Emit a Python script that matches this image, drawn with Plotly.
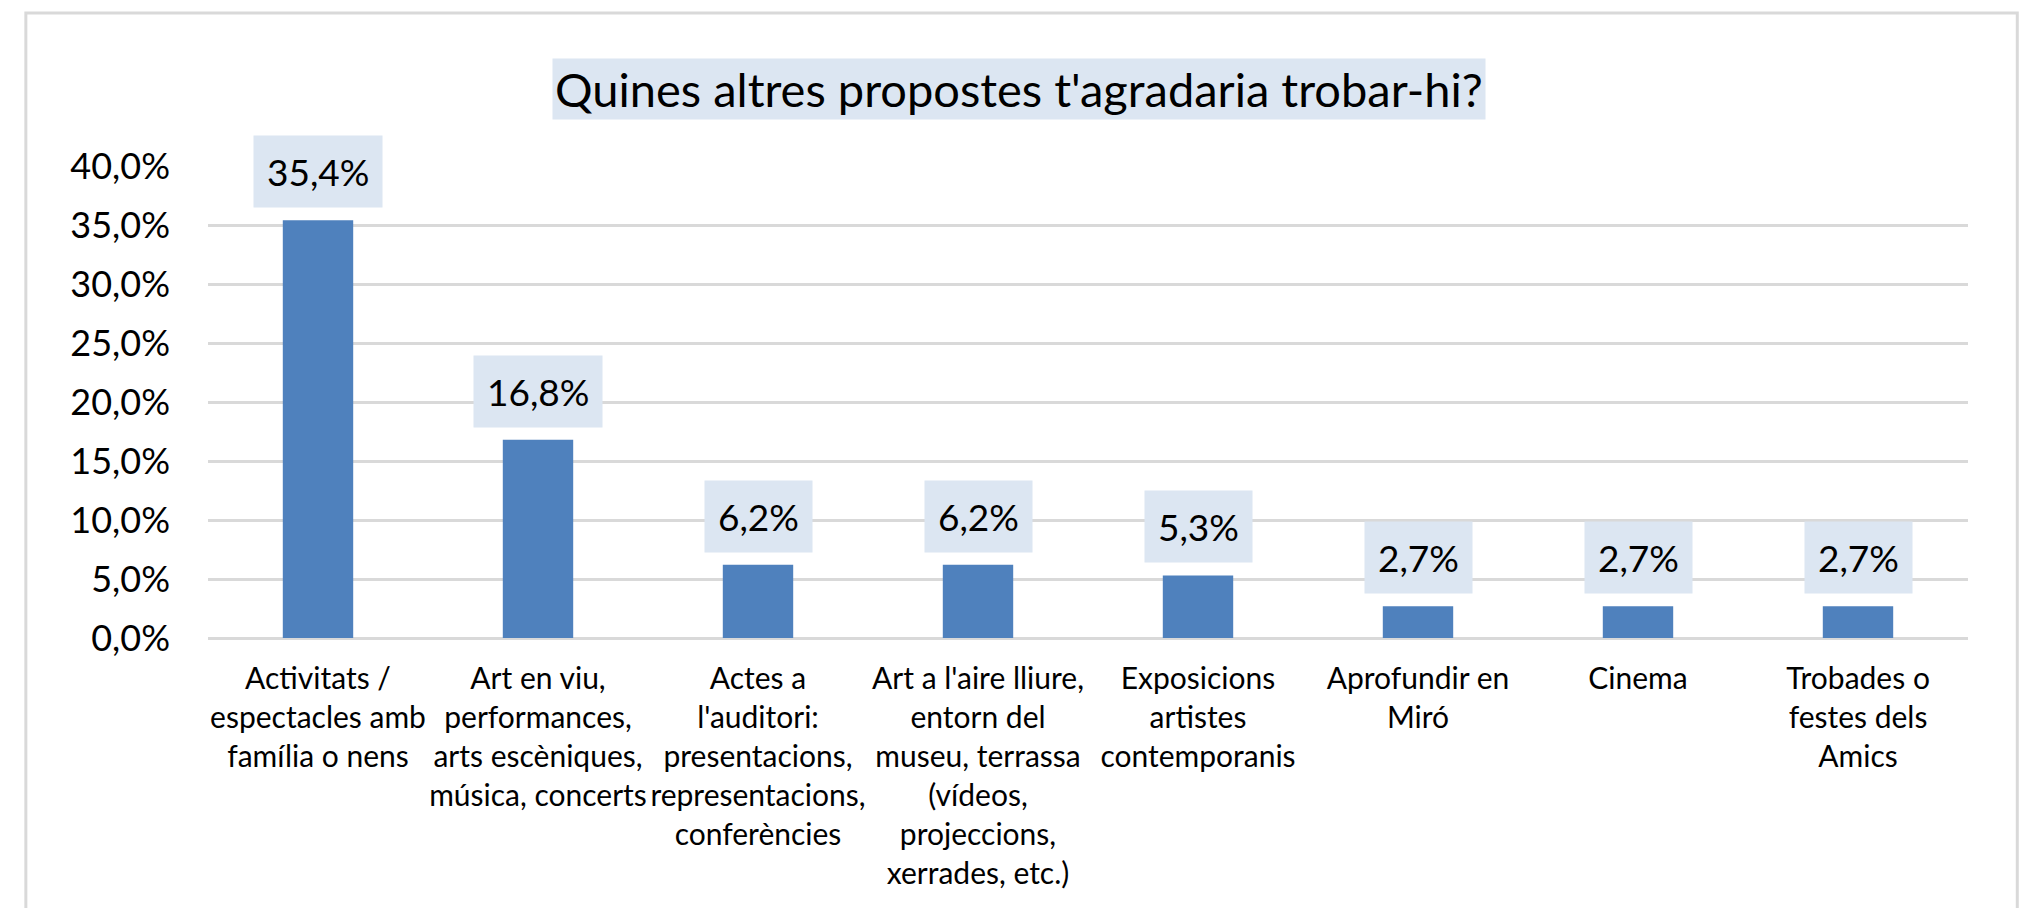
import plotly.graph_objects as go

categories = [
    "Activitats /<br>espectacles amb<br>família o nens",
    "Art en viu,<br>performances,<br>arts escèniques,<br>música, concerts",
    "Actes a<br>l'auditori:<br>presentacions,<br>representacions,<br>conferències",
    "Art a l'aire lliure,<br>entorn del<br>museu, terrassa<br>(vídeos,<br>projeccions,<br>xerrades, etc.)",
    "Exposicions<br>artistes<br>contemporanis",
    "Aprofundir en<br>Miró",
    "Cinema",
    "Trobades o<br>festes dels<br>Amics",
]
values = [35.4, 16.8, 6.2, 6.2, 5.3, 2.7, 2.7, 2.7]
value_labels = ["35,4%", "16,8%", "6,2%", "6,2%", "5,3%", "2,7%", "2,7%", "2,7%"]
y_ticks = [0, 5, 10, 15, 20, 25, 30, 35, 40]
y_tick_labels = ["0,0%", "5,0%", "10,0%", "15,0%", "20,0%", "25,0%", "30,0%", "35,0%", "40,0%"]
title_text = "Quines altres propostes t'agradaria trobar-hi?"

FONT = "Lato, 'Open Sans', sans-serif"
BAR = "#4F81BD"
BOXBG = "#DCE6F2"
GRID = "#D9D9D9"

fig = go.Figure()
fig.add_trace(go.Bar(x=categories, y=values, marker=dict(color=BAR, line=dict(width=0)),
                     hoverinfo="skip"))

for c, v, t in zip(categories, values, value_labels):
    fig.add_annotation(x=c, y=v, text=t, showarrow=False, xref="x", yref="y",
                       yanchor="bottom", yshift=12, bgcolor=BOXBG, borderpad=13,
                       font=dict(family=FONT, size=37, color="#000000"))

fig.add_annotation(x=0.461, y=1, xref="paper", yref="paper", yanchor="middle",
                   yshift=77, text=title_text, showarrow=False, bgcolor=BOXBG,
                   borderpad=2, font=dict(family=FONT, size=47, color="#000000"))

# outer chart border
fig.add_shape(type="rect", xref="paper", yref="paper", x0=-0.1035, x1=1.028,
              y0=-0.62, y1=1.324, line=dict(color=GRID, width=3), layer="below")

fig.update_layout(
    width=2028, height=908,
    margin=dict(l=200, r=68, t=158, b=278),
    plot_bgcolor="white", paper_bgcolor="white",
    bargap=0.68, showlegend=False,
    font=dict(family=FONT, color="#000000"),
)
fig.update_xaxes(showgrid=False, showline=False, ticks="", tickangle=0,
                 ticklabelstandoff=20,
                 tickfont=dict(family=FONT, size=30, color="#000000"))
fig.update_yaxes(range=[0, 40], tickvals=y_ticks, ticktext=y_tick_labels,
                 showgrid=True, gridcolor=GRID, gridwidth=3, zeroline=True,
                 zerolinecolor=GRID, zerolinewidth=3, showline=False,
                 ticklabelstandoff=37,
                 tickfont=dict(family=FONT, size=36, color="#000000"))

fig.write_html("out.html")
